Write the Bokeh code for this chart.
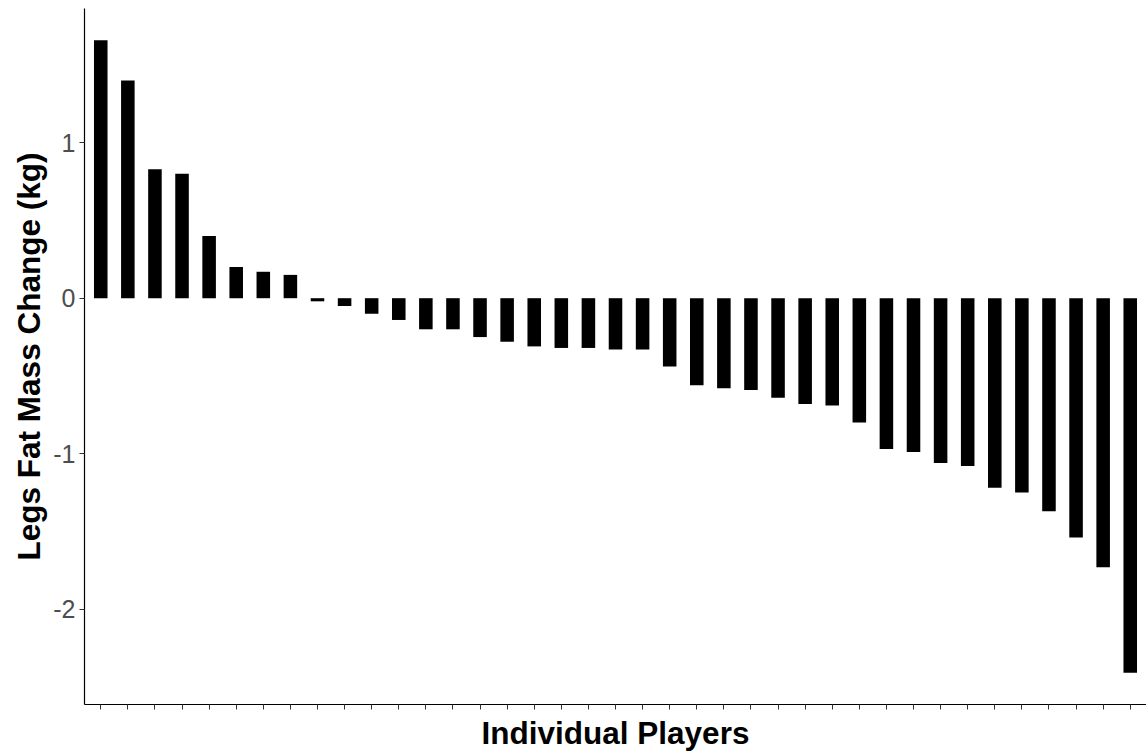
from bokeh.plotting import figure
from bokeh.models import Range1d, FixedTicker, ColumnDataSource
from bokeh.embed import file_html
from bokeh.resources import INLINE

# Data (players sorted by change)
players = [f"Player {i}" for i in range(1, 40)]
fat_change = [1.66, 1.40, 0.83, 0.80, 0.40, 0.20, 0.17, 0.15, -0.02, -0.05,
              -0.10, -0.14, -0.20, -0.20, -0.25, -0.28, -0.31, -0.32, -0.32, -0.33,
              -0.33, -0.44, -0.56, -0.58, -0.59, -0.64, -0.68, -0.69, -0.80, -0.97,
              -0.99, -1.06, -1.08, -1.22, -1.25, -1.37, -1.54, -1.73, -2.41]
y_ticks = [-2, -1, 0, 1]
y_tick_labels = ["-2", "-1", "0", "1"]

pos = list(range(1, len(players) + 1))
src = ColumnDataSource(dict(x=pos, top=fat_change, player=players))

lo, hi = min(fat_change), max(fat_change)
pad = 0.05 * (hi - lo)

p = figure(width=1146, height=753, output_backend="svg", toolbar_location=None,
           x_range=Range1d(0.4, len(players) + 0.6),
           y_range=Range1d(lo - pad, hi + pad),
           min_border_left=84, min_border_right=0, min_border_top=8, min_border_bottom=48)

p.vbar(x="x", top="top", bottom=0, width=0.5, source=src,
       fill_color="black", line_color=None)

p.outline_line_color = None
p.xgrid.grid_line_color = None
p.ygrid.grid_line_color = None
p.background_fill_color = "white"
p.border_fill_color = "white"

font = "Liberation Sans"

# y axis
p.yaxis.ticker = FixedTicker(ticks=y_ticks)
p.yaxis.major_label_overrides = dict(zip(y_ticks, y_tick_labels))
p.yaxis.axis_label = "Legs Fat Mass Change (kg)"
p.yaxis.axis_label_text_font = font
p.yaxis.axis_label_text_font_style = "bold"
p.yaxis.axis_label_text_font_size = "31.5px"
p.yaxis.axis_label_text_color = "black"
p.yaxis.axis_label_standoff = 3
p.yaxis.major_label_text_font = font
p.yaxis.major_label_text_font_size = "25px"
p.yaxis.major_label_text_color = "#4d4d4d"
p.yaxis.major_label_standoff = 4
p.yaxis.major_tick_out = 5
p.yaxis.major_tick_in = 0
p.yaxis.minor_tick_out = 0
p.yaxis.minor_tick_in = 0
p.yaxis.major_tick_line_color = "#333333"
p.yaxis.axis_line_color = "black"
p.yaxis.axis_line_width = 1.2

# x axis
p.xaxis.ticker = FixedTicker(ticks=pos)
p.xaxis.major_label_overrides = {i: "" for i in pos}
p.xaxis.axis_label = "Individual Players"
p.xaxis.axis_label_text_font = font
p.xaxis.axis_label_text_font_style = "bold"
p.xaxis.axis_label_text_font_size = "31.5px"
p.xaxis.axis_label_text_color = "black"
p.xaxis.axis_label_standoff = 5
p.xaxis.major_tick_out = 5
p.xaxis.major_tick_in = 0
p.xaxis.minor_tick_out = 0
p.xaxis.minor_tick_in = 0
p.xaxis.major_tick_line_color = "#333333"
p.xaxis.axis_line_color = "black"
p.xaxis.axis_line_width = 1.2

open("out.html", "w").write(file_html(p, INLINE))
